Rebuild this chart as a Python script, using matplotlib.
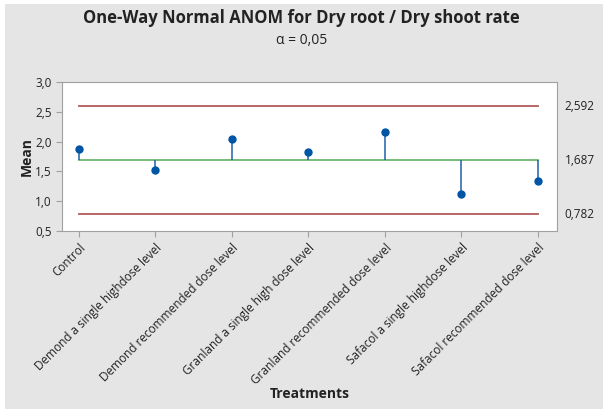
import matplotlib
matplotlib.use("Agg")
import matplotlib.pyplot as plt
from matplotlib.patches import Rectangle

treatments = ["Control", "Demond a single highdose level", "Demond recommended dose level",
              "Granland a single high dose level", "Granland recommended dose level",
              "Safacol a single highdose level", "Safacol recommended dose level"]
means = [1.872, 1.528, 2.039, 1.826, 2.166, 1.121, 1.334]
center = 1.687
udl = 2.592
ldl = 0.782
yticks = [0.5, 1.0, 1.5, 2.0, 2.5, 3.0]

plt.rcParams['font.family'] = ['Open Sans', 'DejaVu Sans']

fig = plt.figure(figsize=(6.03, 4.09), dpi=100)
fig.patch.set_facecolor('white')
fig.patches.append(Rectangle((5/603, 0), 1, 1 - 4/409, transform=fig.transFigure,
                             facecolor='#e5e5e5', edgecolor='none', zorder=-10))

ax = fig.add_axes([62/603, 1 - 231/409, (557-62)/603, (231-82)/409])
ax.set_facecolor('white')
x = list(range(len(treatments)))

ax.plot([x[0], x[-1]], [udl, udl], color='#b35a5a', lw=1.3, zorder=2)
ax.plot([x[0], x[-1]], [ldl, ldl], color='#b35a5a', lw=1.3, zorder=2)
ax.plot([x[0], x[-1]], [center, center], color='#6db56d', lw=1.3, zorder=2)
ax.vlines(x, center, means, color='#1f5fa8', lw=1.1, zorder=3)
ax.plot(x, means, 'o', color='#0055a5', ms=5, zorder=4)

ax.set_xlim(-0.22, 6.25)
ax.set_ylim(0.5, 3.0)
ax.set_yticks(yticks)
ax.set_yticklabels([f"{v:.1f}".replace('.', ',') for v in yticks], fontsize=8.5)
ax.set_xticks(x)
ax.set_xticklabels(treatments, rotation=45, ha='right', rotation_mode='anchor', fontsize=8.5)
for s in ax.spines.values():
    s.set_color('#a0a0a0')
ax.tick_params(colors='#a0a0a0', labelcolor='#222222', length=4)
ax.set_ylabel("Mean", fontsize=10, fontweight='bold', color='#222222', labelpad=1)
ax.set_xlabel("Treatments", fontsize=10, fontweight='bold', color='#222222', labelpad=0)

for v in [udl, center, ldl]:
    ax.text(1.015, (v - 0.5) / 2.5, f"{v:.3f}".replace('.', ','), transform=ax.transAxes,
            fontsize=8.5, va='center', ha='left', color='#222222')

fig.text(0.5, 1 - 18/409, "One-Way Normal ANOM for Dry root / Dry shoot rate",
         ha='center', va='center', fontsize=12, fontweight='bold', color='#222222')
fig.text(0.5, 1 - 40/409, "α = 0,05", ha='center', va='center', fontsize=10,
         color='#222222')

fig.savefig("out.png", dpi=100, facecolor=fig.get_facecolor())
